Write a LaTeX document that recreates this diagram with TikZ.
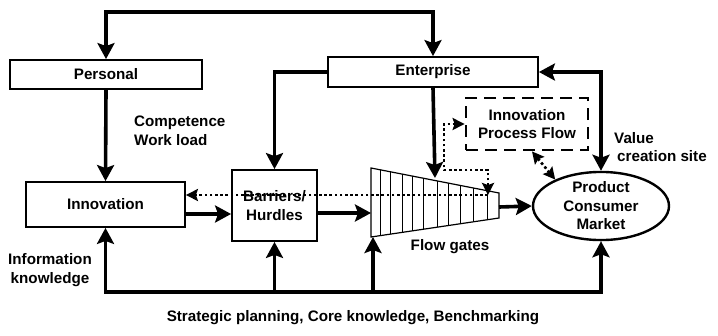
\documentclass[tikz,border=0pt]{standalone}
\usepackage{fontspec}
\setmainfont{Liberation Sans}
\usetikzlibrary{arrows.meta,shapes.geometric}

\begin{document}
\begin{tikzpicture}[x=1pt,y=-1pt,
    every node/.style={font=\fontsize{15.2}{18.5}\selectfont\bfseries, inner sep=0pt},
    box/.style={draw, line width=1.8pt},
    link/.style={line width=3.6pt, >={Stealth[length=16pt,width=17pt,inset=3pt]}},
    dotlink/.style={line width=2.6pt, dash pattern=on 2.6pt off 2.6pt, >={Stealth[length=12pt,width=12pt,inset=2pt]}}]
    \useasboundingbox (0,0) rectangle (718,335);
    \node[box, minimum width=192pt, minimum height=29pt] (personal) at (106,74.5) {Personal};
    \node[box, minimum width=210pt, minimum height=30pt] (enterprise) at (433,72) {Enterprise};
    \node[box, minimum width=159pt, minimum height=45pt] (innov) at (105.5,204.5) {Innovation};
    \node[box, minimum width=85pt, minimum height=71pt, align=center] (barriers) at (274.5,205.5) {Barriers/\\Hurdles};
    \node[draw, line width=2.8pt, dash pattern=on 12pt off 7pt, minimum width=122pt, minimum height=52pt, align=center] (ipf) at (527,124) {Innovation\\Process Flow};
    \node[ellipse, draw, line width=2.4pt, minimum width=136pt, minimum height=62pt, align=center] (product) at (601,206) {Product\\Consumer\\Market};
    \draw[line width=1.2pt] (371,168) coordinate (fnw) -- (499,193) coordinate (fne)
        -- (499,218) coordinate (fse) -- (371,237) coordinate (fsw) -- cycle;
    \foreach \gx in {380,390,402,412,423,437,448,460,473,487}
        \draw[line width=1pt] (\gx,{168+(\gx-371)*25/128}) -- (\gx,{237-(\gx-371)*19/128});
    \coordinate (gate) at (488,195);
    \coordinate (top) at (0,12);
    \coordinate (bus) at (0,292);
    \draw[link,<->] (personal.north) -- (personal.north |- top) -| (enterprise.north);
    \draw[link,->] (personal.south) -- (innov.north);
    \draw[link,->] (enterprise.west) -| (barriers.north);
    \draw[link,->] (enterprise.south) -- (435,178);
    \draw[link,->] (innov.east |- 0,214) -- (barriers.west |- 0,214);
    \draw[link,->] (barriers.east |- 0,213) -- (fnw |- 0,213);
    \draw[link,->] (fne |- 0,207) -- (product.west);
    \draw[link,<->] (enterprise.east) -| (product.north);
    \draw[dotlink,->] (gate) -- (innov.east |- gate);
    \draw[dotlink,<->] (gate) |- (444,170) |- (ipf.west);
    \draw[dotlink,<->] ([xshift=5pt]ipf.south) -- (product.150);
    \draw[link,<->] (innov.south) -- (innov.south |- bus) -| (product.south);
    \draw[link,->] (barriers.south |- bus) -- (barriers.south);
    \draw[link,->] (373,292) -- (373,237);
    \node[align=left, anchor=west] (comp) at (134,131) {Competence\\Work load};
    \node[align=center] (info) at (50,270) {Information\\knowledge};
    \node[align=left, anchor=west] (value) at (614,147) {Value\\\hspace{3pt}creation site};
    \node (gates) at (450,247) {Flow gates};
    \node (strat) at (353,318) {Strategic planning, Core knowledge, Benchmarking};
\end{tikzpicture}
\end{document}
